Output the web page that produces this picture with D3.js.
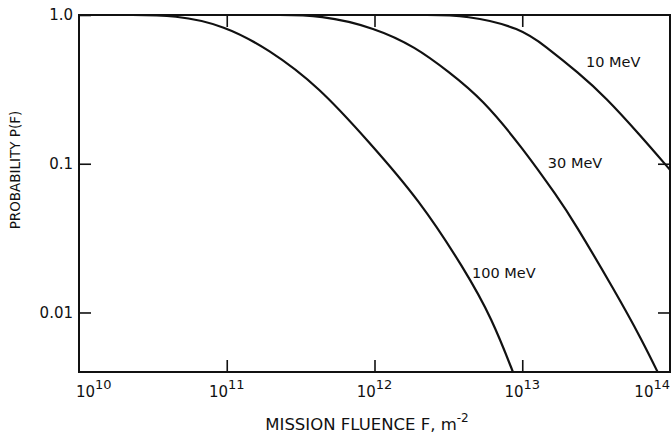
<!DOCTYPE html>
<html>
<head>
<meta charset="utf-8">
<script src="https://cdn.jsdelivr.net/npm/d3@7"></script>
<style>
  body { margin: 0; background: #fff; }
  svg { display: block; font-family: "DejaVu Sans", sans-serif; }
</style>
</head>
<body>
<script>
// curves: [fluence in m^-2, probability]
const mev100 = [[2.0e10, 1], [4.6e10, 1], [9.6e10, 0.85], [1.92e11, 0.59], [4.2e11, 0.33],
  [9.3e11, 0.138], [2.0e12, 0.0575], [4.06e12, 0.0196], [6.25e12, 0.0091], [8.9e12, 0.0037]];
const mev30 = [[2.0e11, 1], [4.4e11, 1], [1.01e12, 0.818], [1.89e12, 0.61], [3.18e12, 0.415],
  [5.35e12, 0.273], [1.01e13, 0.127], [1.75e13, 0.0589], [2.22e13, 0.0413], [4.21e13, 0.0141],
  [6.47e13, 0.00652], [8.55e13, 0.0037]];
const mev10 = [[2.0e12, 1], [4.3e12, 1], [9.8e12, 0.813], [1.43e13, 0.618], [2.40e13, 0.409],
  [3.68e13, 0.279], [6.19e13, 0.158], [1.0e14, 0.091]];

const curveNames = ["100 MeV", "30 MeV", "10 MeV"];
// where each curve's label sits, [fluence, probability] of the text's start/baseline
const labelSpots = [[4.57e12, 0.0171], [1.49e13, 0.0936], [2.7e13, 0.447]];

const xTicks = [1e10, 1e11, 1e12, 1e13, 1e14];
const yTicks = [1.0, 0.1, 0.01];
const yTickLabels = ["1.0", "0.1", "0.01"];

const width = 671, height = 434;
const plotLeft = 79, plotRight = 670, plotTop = 15, plotBottom = 372;

const svg = d3.select("body").append("svg")
  .attr("width", width)
  .attr("height", height);

const x = d3.scaleLog().domain([1e10, 1e14]).range([plotLeft, plotRight]);
const y = d3.scaleLog().domain([0.00398, 1]).range([plotBottom, plotTop]);

// inward ticks on all four sides
svg.append("g")
  .attr("transform", `translate(0,${plotBottom})`)
  .call(d3.axisBottom(x).tickValues(xTicks.slice(1, -1)).tickSize(-12).tickFormat(""))
  .call(g => g.select(".domain").remove());
svg.append("g")
  .attr("transform", `translate(0,${plotTop})`)
  .call(d3.axisTop(x).tickValues(xTicks.slice(1, -1)).tickSize(-12).tickFormat(""))
  .call(g => g.select(".domain").remove());
svg.append("g")
  .attr("transform", `translate(${plotRight},0)`)
  .call(d3.axisRight(y).tickValues(yTicks.slice(1)).tickSize(-12).tickFormat(""))
  .call(g => g.select(".domain").remove());

const yAxis = svg.append("g")
  .attr("transform", `translate(${plotLeft},0)`)
  .call(d3.axisLeft(y).tickValues(yTicks).tickSize(-12).tickPadding(6)
    .tickFormat((d, i) => yTickLabels[i]))
  .call(g => g.select(".domain").remove());
yAxis.selectAll("text")
  .style("font-size", "15px")
  .style("font-family", "DejaVu Sans, sans-serif")
  .attr("fill", "#111");

svg.selectAll(".tick line")
  .attr("stroke", "#111")
  .attr("stroke-width", 1.6);

// frame
svg.append("rect")
  .attr("x", plotLeft)
  .attr("y", plotTop)
  .attr("width", plotRight - plotLeft)
  .attr("height", plotBottom - plotTop)
  .attr("fill", "none")
  .attr("stroke", "#111")
  .attr("stroke-width", 2);

// x tick labels as powers of ten
xTicks.forEach((d, i) => {
  const anchor = i === 0 ? "start" : (i === xTicks.length - 1 ? "end" : "middle");
  const t = svg.append("text")
    .attr("x", x(d) + (i === 0 ? -3 : 0))
    .attr("y", 397)
    .attr("text-anchor", anchor)
    .attr("fill", "#111")
    .style("font-size", "15px");
  t.append("tspan").text("10");
  t.append("tspan")
    .attr("dy", -8)
    .style("font-size", "13px")
    .text(Math.round(Math.log10(d)));
});

// axis titles
const xTitle = svg.append("text")
  .attr("x", 367)
  .attr("y", 430)
  .attr("text-anchor", "middle")
  .attr("fill", "#111")
  .style("font-size", "16.5px");
xTitle.append("tspan").text("MISSION FLUENCE F, m");
xTitle.append("tspan").attr("dy", -8).style("font-size", "12px").text("-2");

svg.append("text")
  .attr("transform", "translate(20,170) rotate(-90)")
  .attr("text-anchor", "middle")
  .attr("fill", "#111")
  .style("font-size", "13.5px")
  .text("PROBABILITY P(F)");

// curves
svg.append("clipPath")
  .attr("id", "plot")
  .append("rect")
  .attr("x", plotLeft)
  .attr("y", plotTop)
  .attr("width", plotRight - plotLeft)
  .attr("height", plotBottom - plotTop);

const line = d3.line()
  .x(d => x(d[0]))
  .y(d => y(d[1]))
  .curve(d3.curveBasis);

svg.append("g")
  .attr("clip-path", "url(#plot)")
  .selectAll("path")
  .data([mev100, mev30, mev10])
  .enter()
  .append("path")
  .attr("d", line)
  .attr("fill", "none")
  .attr("stroke", "#111")
  .attr("stroke-width", 2.2);

svg.selectAll(".curve-label")
  .data(curveNames)
  .enter()
  .append("text")
  .attr("class", "curve-label")
  .attr("x", (d, i) => x(labelSpots[i][0]))
  .attr("y", (d, i) => y(labelSpots[i][1]))
  .attr("fill", "#111")
  .style("font-size", "14.5px")
  .text(d => d);
</script>
</body>
</html>
